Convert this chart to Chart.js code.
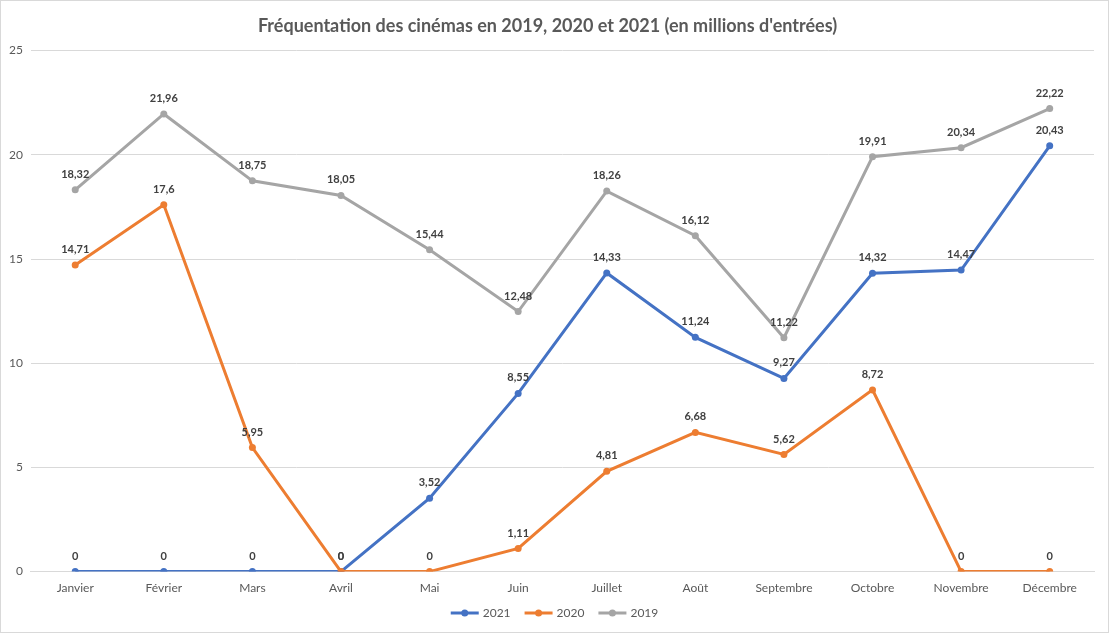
<!DOCTYPE html>
<html lang="fr">
<head>
<meta charset="utf-8">
<title>Fréquentation des cinémas</title>
<script src="https://cdn.jsdelivr.net/npm/chart.js@4.4.1/dist/chart.umd.min.js"></script>
<style>
  html, body { margin: 0; padding: 0; background: #fff; }
  #wrap { position: relative; width: 1107px; height: 631px; border: 1px solid #d9d9d9; }
</style>
</head>
<body>
<div id="wrap"><canvas id="chart"></canvas></div>
<script>
// Données (millions d'entrées)
const mois = ['Janvier', 'Février', 'Mars', 'Avril', 'Mai', 'Juin', 'Juillet', 'Août', 'Septembre', 'Octobre', 'Novembre', 'Décembre'];
const entrees2021 = [0, 0, 0, 0, 3.52, 8.55, 14.33, 11.24, 9.27, 14.32, 14.47, 20.43];
const entrees2020 = [14.71, 17.6, 5.95, 0, 0, 1.11, 4.81, 6.68, 5.62, 8.72, 0, 0];
const entrees2019 = [18.32, 21.96, 18.75, 18.05, 15.44, 12.48, 18.26, 16.12, 11.22, 19.91, 20.34, 22.22];
const ticksY = [0, 5, 10, 15, 20, 25];

const FONT = 'Lato, "Open Sans", sans-serif';
const GRIS_TEXTE = '#595959';

// Étiquettes de données au-dessus des points
const etiquettes = {
    id: 'etiquettes',
    afterDatasetsDraw(chart) {
        const ctx = chart.ctx;
        ctx.save();
        ctx.font = 'bold 11px ' + FONT;
        ctx.fillStyle = '#404040';
        ctx.textAlign = 'center';
        ctx.textBaseline = 'bottom';
        chart.data.datasets.forEach((ds, i) => {
            const meta = chart.getDatasetMeta(i);
            meta.data.forEach((pt, j) => {
                const txt = String(ds.data[j]).replace('.', ',');
                ctx.fillText(txt, pt.x, pt.y - 10);
            });
        });
        ctx.restore();
    }
};

// Légende façon Excel : trait + point
const legende = {
    id: 'legende',
    afterDraw(chart) {
        const ctx = chart.ctx;
        const y = 612;
        ctx.save();
        ctx.font = '12px ' + FONT;
        ctx.textBaseline = 'middle';
        const items = chart.data.datasets.map(ds => ({ label: ds.label, color: ds.borderColor, w: ctx.measureText(ds.label).width }));
        const trait = 28, gap = 4, sep = 14;
        let total = 0;
        items.forEach((it, k) => { total += trait + gap + it.w + (k < items.length - 1 ? sep : 0); });
        let x = chart.width / 2 - total / 2;
        items.forEach(it => {
            ctx.strokeStyle = it.color;
            ctx.lineWidth = 3;
            ctx.beginPath();
            ctx.moveTo(x, y);
            ctx.lineTo(x + trait, y);
            ctx.stroke();
            ctx.fillStyle = it.color;
            ctx.beginPath();
            ctx.arc(x + trait / 2, y, 3.5, 0, Math.PI * 2);
            ctx.fill();
            ctx.fillStyle = GRIS_TEXTE;
            ctx.fillText(it.label, x + trait + gap, y);
            x += trait + gap + it.w + sep;
        });
        ctx.restore();
    }
};

function serie(label, data, couleur, ordre) {
    return {
        label: label,
        data: data,
        borderColor: couleur,
        backgroundColor: couleur,
        borderWidth: 3,
        pointRadius: 3.5,
        pointHoverRadius: 4,
        pointBorderWidth: 0,
        tension: 0,
        fill: false,
        order: ordre
    };
}

new Chart(document.getElementById('chart'), {
    type: 'line',
    data: {
        labels: mois,
        datasets: [
            serie('2021', entrees2021, '#4472C4', 3),
            serie('2020', entrees2020, '#ED7D31', 2),
            serie('2019', entrees2019, '#A5A5A5', 1)
        ]
    },
    options: {
        responsive: true,
        maintainAspectRatio: false,
        animation: false,
        layout: { padding: { left: 0, right: 14, top: 0, bottom: 28 } },
        plugins: {
            legend: { display: false },
            tooltip: { enabled: false },
            title: {
                display: true,
                text: "Fréquentation des cinémas en 2019, 2020 et 2021 (en millions d'entrées)",
                color: GRIS_TEXTE,
                font: { family: FONT, size: 18, weight: 'bold' },
                padding: { top: 14, bottom: 14 }
            }
        },
        scales: {
            x: {
                offset: true,
                grid: { display: false, drawTicks: false },
                border: { color: '#d9d9d9' },
                ticks: { color: GRIS_TEXTE, font: { family: FONT, size: 12 }, padding: 9, maxRotation: 0 }
            },
            y: {
                min: 0,
                max: 25,
                afterBuildTicks(axis) { axis.ticks = ticksY.map(v => ({ value: v })); },
                grid: { color: '#d9d9d9', drawTicks: false },
                border: { display: false },
                ticks: { color: GRIS_TEXTE, font: { family: FONT, size: 12 }, padding: 8 }
            }
        }
    },
    plugins: [etiquettes, legende]
});
</script>
</body>
</html>
